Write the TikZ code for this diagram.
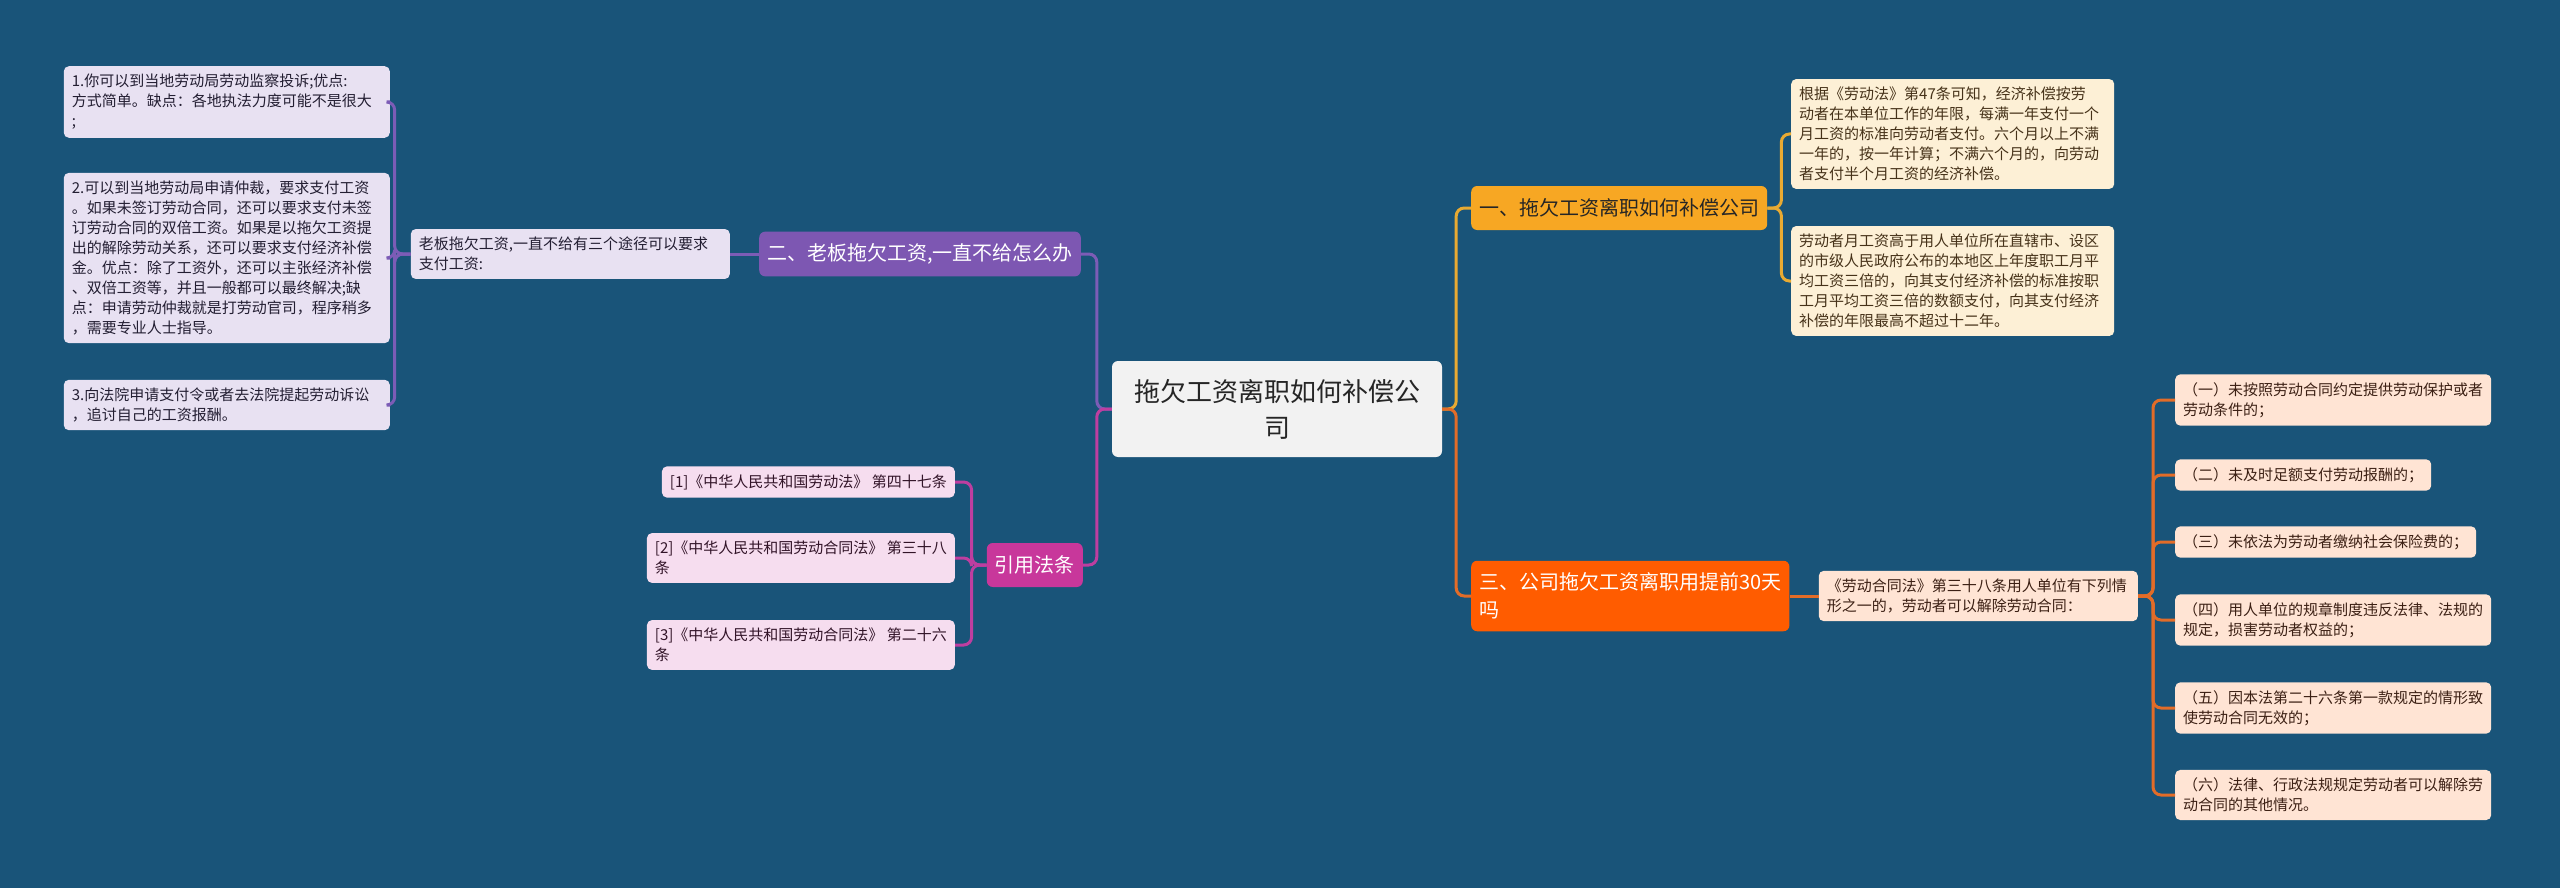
\documentclass[tikz,border=0pt]{standalone}
\usepackage{fontspec}
\setmainfont{Noto Sans CJK SC}
\usetikzlibrary{positioning}
\definecolor{bgblue}{RGB}{25,84,121}
\definecolor{rootgray}{RGB}{242,242,242}
\definecolor{compfill}{RGB}{247,167,35}
\definecolor{compline}{RGB}{232,170,50}
\definecolor{creamfill}{RGB}{253,240,214}
\definecolor{creamtext}{RGB}{70,50,25}
\definecolor{quitfill}{RGB}{255,92,0}
\definecolor{quitline}{RGB}{226,108,40}
\definecolor{peachfill}{RGB}{255,228,212}
\definecolor{peachtext}{RGB}{60,32,20}
\definecolor{bossfill}{RGB}{125,87,178}
\definecolor{bossline}{RGB}{124,92,182}
\definecolor{lavfill}{RGB}{232,225,242}
\definecolor{lavtext}{RGB}{35,30,50}
\definecolor{lawfill}{RGB}{200,55,155}
\definecolor{lawline}{RGB}{190,62,160}
\definecolor{pinkfill}{RGB}{246,221,239}
\definecolor{pinktext}{RGB}{50,20,40}
\newcommand\leaffont{\fontsize{15}{20}\selectfont}
\newcommand\topicfont{\fontsize{20}{28}\selectfont}
\newcommand\rootfont{\fontsize{26}{36}\selectfont}

\begin{document}
\begin{tikzpicture}[x=1pt,y=-1pt,
  link/.style={line width=3pt,rounded corners=8pt},
  rootbox/.style={fill=rootgray,rounded corners=6pt,align=center,font=\rootfont,text=black!85,inner xsep=22pt,minimum height=96pt},
  topic/.style={rounded corners=6pt,align=left,font=\topicfont,inner xsep=8pt,inner ysep=12pt,minimum height=44pt},
  leaf/.style={rounded corners=5pt,align=left,font=\leaffont,inner xsep=8pt,inner ysep=8pt}]
\fill[bgblue] (0,0) rectangle (2560,888);
% centre
\node[rootbox](root) at (1277,409){拖欠工资离职如何补偿公\\司};
% right side
\node[topic,fill=compfill,text=black!85,anchor=west](comp) at (1471,208){一、拖欠工资离职如何补偿公司};
\node[leaf,fill=creamfill,text=creamtext,text width=307pt,anchor=west](std) at (1791,134){根据《劳动法》第47条可知，经济补偿按劳\\动者在本单位工作的年限，每满一年支付一个\\月工资的标准向劳动者支付。六个月以上不满\\一年的，按一年计算；不满六个月的，向劳动\\者支付半个月工资的经济补偿。};
\node[leaf,fill=creamfill,text=creamtext,text width=307pt,anchor=west](cap) at (1791,281){劳动者月工资高于用人单位所在直辖市、设区\\的市级人民政府公布的本地区上年度职工月平\\均工资三倍的，向其支付经济补偿的标准按职\\工月平均工资三倍的数额支付，向其支付经济\\补偿的年限最高不超过十二年。};
\node[topic,fill=quitfill,text=white,anchor=west](quit) at (1471,596){三、公司拖欠工资离职用提前30天\\吗};
\node[leaf,fill=peachfill,text=peachtext,text width=303pt,right=29pt of quit](clause){《劳动合同法》第三十八条用人单位有下列情\\形之一的，劳动者可以解除劳动合同：};
\node[leaf,fill=peachfill,text=peachtext,anchor=west](c1) at (2175,400){（一）未按照劳动合同约定提供劳动保护或者\\劳动条件的；};
\node[leaf,fill=peachfill,text=peachtext,anchor=west](c2) at (2175,475){（二）未及时足额支付劳动报酬的；};
\node[leaf,fill=peachfill,text=peachtext,anchor=west](c3) at (2175,542){（三）未依法为劳动者缴纳社会保险费的；};
\node[leaf,fill=peachfill,text=peachtext,anchor=west](c4) at (2175,620){（四）用人单位的规章制度违反法律、法规的\\规定，损害劳动者权益的；};
\node[leaf,fill=peachfill,text=peachtext,anchor=west](c5) at (2175,708){（五）因本法第二十六条第一款规定的情形致\\使劳动合同无效的；};
\node[leaf,fill=peachfill,text=peachtext,anchor=west](c6) at (2175,795){（六）法律、行政法规规定劳动者可以解除劳\\动合同的其他情况。};
% left side
\node[topic,fill=bossfill,text=white,anchor=east](boss) at (1081,254){二、老板拖欠工资,一直不给怎么办};
\node[leaf,fill=lavfill,text=lavtext,text width=303pt,left=29pt of boss](ways){老板拖欠工资,一直不给有三个途径可以要求\\支付工资:};
\node[leaf,fill=lavfill,text=lavtext,text width=310pt,anchor=east](w1) at (390,102){1.你可以到当地劳动局劳动监察投诉;优点:\\方式简单。缺点：各地执法力度可能不是很大\\;};
\node[leaf,fill=lavfill,text=lavtext,text width=310pt,anchor=east](w2) at (390,258){2.可以到当地劳动局申请仲裁，要求支付工资\\。如果未签订劳动合同，还可以要求支付未签\\订劳动合同的双倍工资。如果是以拖欠工资提\\出的解除劳动关系，还可以要求支付经济补偿\\金。优点：除了工资外，还可以主张经济补偿\\、双倍工资等，并且一般都可以最终解决;缺\\点：申请劳动仲裁就是打劳动官司，程序稍多\\，需要专业人士指导。};
\node[leaf,fill=lavfill,text=lavtext,text width=310pt,anchor=east](w3) at (390,405){3.向法院申请支付令或者去法院提起劳动诉讼\\，追讨自己的工资报酬。};
\node[topic,fill=lawfill,text=white,anchor=east](law) at (1083,565){引用法条};
\node[leaf,fill=pinkfill,text=pinktext,anchor=east](r1) at (955,482){[1]《中华人民共和国劳动法》 第四十七条};
\node[leaf,fill=pinkfill,text=pinktext,anchor=east](r2) at (955,558){[2]《中华人民共和国劳动合同法》 第三十八\\条};
\node[leaf,fill=pinkfill,text=pinktext,anchor=east](r3) at (955,645){[3]《中华人民共和国劳动合同法》 第二十六\\条};
% connectors
\draw[link,compline](root.east)--++(14,0)|-(comp.west); \draw[link,quitline](root.east)--++(14,0)|-(quit.west);
\draw[link,bossline](root.west)--++(-15,0)|-(boss.east); \draw[link,lawline](root.west)--++(-15,0)|-(law.east);
\draw[link,compline](comp.east)--++(14,0)|-(std.west); \draw[link,compline](comp.east)--++(14,0)|-(cap.west);
\draw[link,quitline](quit.east)--(clause.west);
\draw[link,quitline](clause.east)--++(15,0)|-(c1.west); \draw[link,quitline](clause.east)--++(15,0)|-(c2.west); \draw[link,quitline](clause.east)--++(15,0)|-(c3.west);
\draw[link,quitline](clause.east)--++(15,0)|-(c4.west); \draw[link,quitline](clause.east)--++(15,0)|-(c5.west); \draw[link,quitline](clause.east)--++(15,0)|-(c6.west);
\draw[link,bossline](boss.west)--(ways.east);
\draw[link,bossline](ways.west)--++(-16,0)|-(w1.east); \draw[link,bossline](ways.west)--++(-16,0)|-(w2.east); \draw[link,bossline](ways.west)--++(-16,0)|-(w3.east);
\draw[link,lawline](law.west)--++(-15,0)|-(r1.east); \draw[link,lawline](law.west)--++(-15,0)|-(r2.east); \draw[link,lawline](law.west)--++(-15,0)|-(r3.east);
\end{tikzpicture}
\end{document}
